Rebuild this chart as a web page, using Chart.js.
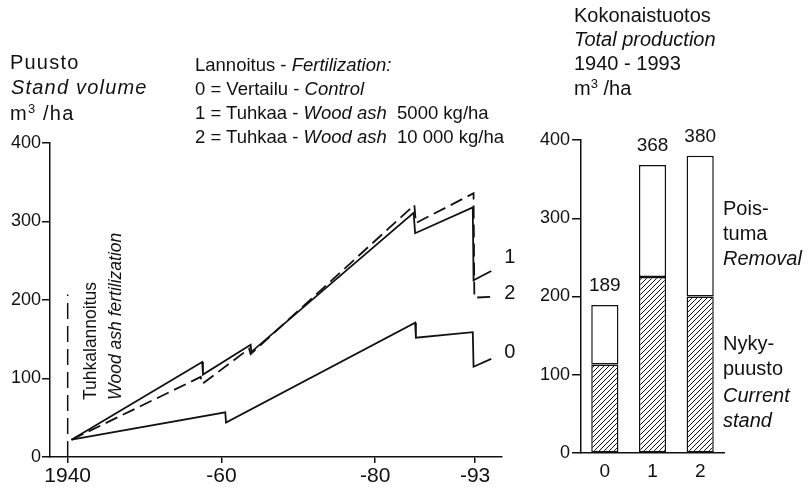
<!DOCTYPE html>
<html>
<head>
<meta charset="utf-8">
<script src="https://cdn.jsdelivr.net/npm/chart.js@4.4.0/dist/chart.umd.min.js"></script>
<style>
  html, body { margin: 0; padding: 0; background: #fff; }
  #wrap { position: relative; width: 810px; height: 487px; overflow: hidden; font-family: "Liberation Sans", Arial, sans-serif; color: #111; }
  canvas { position: absolute; top: 0; }
  .t { position: absolute; white-space: pre; font-size: 20px; line-height: 20px; }
  .s { font-size: 18.5px; }
  .w { letter-spacing: 1.2px; }
  sup { font-size: 13px; vertical-align: 7px; line-height: 0; }
  .rot { transform-origin: 0 0; transform: rotate(-90deg); font-size: 17.5px; line-height: 18px; }
</style>
</head>
<body>
<div id="wrap">
  <canvas id="volumeChart" width="520" height="487" style="left:0"></canvas>
  <canvas id="totalChart" width="290" height="487" style="left:520px"></canvas>

  <!-- vasen otsikko -->
  <div class="t w" style="left:10px; top:52px">Puusto</div>
  <div class="t w" style="left:11px; top:77px"><i>Stand volume</i></div>
  <div class="t w" style="left:10px; top:103px">m<sup>3</sup> /ha</div>

  <!-- selite -->
  <div class="t s" style="left:195px; top:55px">Lannoitus - <i>Fertilization:</i></div>
  <div class="t s" style="left:195px; top:79px">0 = Vertailu - <i>Control</i></div>
  <div class="t s" style="left:195px; top:103px">1 = Tuhkaa - <i>Wood ash</i>  5000 kg/ha</div>
  <div class="t s" style="left:195px; top:127px">2 = Tuhkaa - <i>Wood ash</i>  10 000 kg/ha</div>

  <!-- pystyteksti -->
  <div class="t rot" style="left:81px; top:400px">Tuhkalannoitus</div>
  <div class="t rot" style="left:106px; top:400px"><i>Wood ash fertilization</i></div>

  <!-- oikea otsikko -->
  <div class="t" style="left:574px; top:5px">Kokonaistuotos</div>
  <div class="t" style="left:574px; top:29px"><i>Total production</i></div>
  <div class="t" style="left:574px; top:53px">1940 - 1993</div>
  <div class="t" style="left:574px; top:78px">m<sup>3</sup> /ha</div>

  <!-- pylväiden selitteet -->
  <div class="t" style="left:723px; top:198px">Pois-</div>
  <div class="t" style="left:723px; top:223px">tuma</div>
  <div class="t" style="left:723px; top:248px"><i>Removal</i></div>
  <div class="t" style="left:723px; top:333px">Nyky-</div>
  <div class="t" style="left:723px; top:358px">puusto</div>
  <div class="t" style="left:723px; top:385px"><i>Current</i></div>
  <div class="t" style="left:723px; top:410px"><i>stand</i></div>
</div>

<script>
// --- Data: puusto m3/ha ---
const ctrlYears = [1940.5, 1960.5, 1960.6, 1985.2, 1985.3, 1992.7, 1992.8, 1995.1];
const ctrlVolume = [22, 57, 44, 171, 152, 159, 115, 125];

const ash5Years = [1940.5, 1957.5, 1957.6, 1963.8, 1963.9, 1985.0, 1985.2, 1992.7, 1992.8, 1995.1];
const ash5Volume = [22, 121, 105, 143, 134, 311, 285, 318, 225, 237];

const ash10Years = [1940.5, 1957.3, 1957.5, 1963.6, 1963.8, 1985.1, 1985.3, 1992.8, 1992.9, 1995.1];
const ash10Volume = [22, 102, 93, 138, 131, 321, 298, 336, 203, 204];

const markerYears = [1940, 1940];
const markerVolume = [0, 207];

const xTickValues = [1940, 1960, 1980, 1993];
const xTickLabels = ['1940', '-60', '-80', '-93'];

// --- Data: kokonaistuotos 1940-1993 ---
const barCategories = ['0', '1', '2'];
const currentStand = [113, 225, 200];
const removal = [76, 143, 180];
const totalProduction = [189, 368, 380];

// --- Asetukset ---
const INK = '#111';
const FONT = '"Liberation Sans", Arial, sans-serif';
Chart.defaults.font.family = FONT;
Chart.defaults.color = INK;

const toPoints = (xs, ys) => xs.map((x, i) => ({ x: x, y: ys[i] }));

// viivan loppuun numero
const endLabels = {
  id: 'endLabels',
  afterDatasetsDraw(chart) {
    const ctx = chart.ctx;
    ctx.save();
    ctx.font = '20px ' + FONT;
    ctx.fillStyle = INK;
    ctx.textBaseline = 'middle';
    chart.data.datasets.forEach((ds, i) => {
      if (!ds.endLabel) return;
      const pts = chart.getDatasetMeta(i).data;
      const last = pts[pts.length - 1];
      ctx.fillText(ds.endLabel, last.x + 13, last.y + ds.endLabelDy);
    });
    ctx.restore();
  },
};

// pylvään päälle summa
const totalLabels = {
  id: 'totalLabels',
  afterDatasetsDraw(chart) {
    const ctx = chart.ctx;
    const top = chart.getDatasetMeta(chart.data.datasets.length - 1).data;
    ctx.save();
    ctx.font = '19px ' + FONT;
    ctx.fillStyle = INK;
    ctx.textAlign = 'center';
    ctx.textBaseline = 'middle';
    top.forEach((bar, i) => {
      ctx.fillText(String(totalProduction[i]), bar.x, bar.y - 19);
    });
    ctx.restore();
  },
};

// vinoviivoitus
function makeHatch() {
  const p = document.createElement('canvas');
  p.width = 5;
  p.height = 5;
  const c = p.getContext('2d');
  c.fillStyle = '#fff';
  c.fillRect(0, 0, 5, 5);
  c.strokeStyle = INK;
  c.lineWidth = 1;
  c.beginPath();
  c.moveTo(-1, 6); c.lineTo(6, -1);
  c.moveTo(-1, 1); c.lineTo(1, -1);
  c.moveTo(4, 6); c.lineTo(6, 4);
  c.stroke();
  return c.createPattern(p, 'repeat');
}

const lineStyle = { borderColor: INK, borderWidth: 1.8, pointRadius: 0, tension: 0, fill: false };

// --- Vasen kuvaaja ---
new Chart(document.getElementById('volumeChart'), {
  type: 'line',
  data: {
    datasets: [
      { ...lineStyle, data: toPoints(ctrlYears, ctrlVolume), endLabel: '0', endLabelDy: -6 },
      { ...lineStyle, data: toPoints(ash5Years, ash5Volume), endLabel: '1', endLabelDy: -13 },
      { ...lineStyle, data: toPoints(ash10Years, ash10Volume), borderDash: [13, 6], endLabel: '2', endLabelDy: -3 },
      { ...lineStyle, borderWidth: 1.5, data: toPoints(markerYears, markerVolume), borderDash: [16, 7] },
    ],
  },
  options: {
    responsive: false,
    animation: false,
    layout: { padding: { top: 143, right: 18, left: 0, bottom: 0 } },
    scales: {
      x: {
        type: 'linear',
        min: 1937.7,
        max: 1996.5,
        afterBuildTicks: (s) => { s.ticks = xTickValues.map((v) => ({ value: v })); },
        afterFit: (s) => { s.height = 30; },
        ticks: {
          callback: (v) => xTickLabels[xTickValues.indexOf(v)],
          font: { size: 21 },
          color: INK,
          padding: 1,
          maxRotation: 0,
          autoSkip: false,
        },
        grid: { drawOnChartArea: false, tickLength: 6, color: INK, lineWidth: 1.5 },
        border: { color: INK, width: 1.5 },
      },
      y: {
        min: 0,
        max: 400,
        afterFit: (s) => { s.width = 50; },
        ticks: { stepSize: 100, font: { size: 18 }, color: INK, padding: 1 },
        grid: { drawOnChartArea: false, tickLength: 8, color: INK, lineWidth: 1.5 },
        border: { color: INK, width: 1.5 },
      },
    },
    plugins: { legend: { display: false }, tooltip: { enabled: false } },
  },
  plugins: [endLabels],
});

// --- Oikea kuvaaja ---
const barStyle = { borderColor: INK, borderWidth: 1.5, borderSkipped: false, barPercentage: 0.57, categoryPercentage: 1 };

new Chart(document.getElementById('totalChart'), {
  type: 'bar',
  data: {
    labels: barCategories,
    datasets: [
      { ...barStyle, label: 'Nykypuusto', data: currentStand, backgroundColor: makeHatch() },
      { ...barStyle, label: 'Poistuma', data: removal, backgroundColor: '#fff' },
    ],
  },
  options: {
    responsive: false,
    animation: false,
    layout: { padding: { top: 140, right: 86, left: 0, bottom: 0 } },
    scales: {
      x: {
        stacked: true,
        afterFit: (s) => { s.height = 34; },
        ticks: { font: { size: 19 }, color: INK, padding: 7 },
        grid: { drawOnChartArea: false, drawTicks: false },
        border: { color: INK, width: 1.5 },
      },
      y: {
        stacked: true,
        min: 0,
        max: 400,
        afterFit: (s) => { s.width = 61; },
        ticks: { stepSize: 100, font: { size: 18 }, color: INK, padding: 2 },
        grid: { drawOnChartArea: false, tickLength: 9, color: INK, lineWidth: 1.5 },
        border: { color: INK, width: 1.5 },
      },
    },
    plugins: { legend: { display: false }, tooltip: { enabled: false } },
  },
  plugins: [totalLabels],
});
</script>
</body>
</html>
